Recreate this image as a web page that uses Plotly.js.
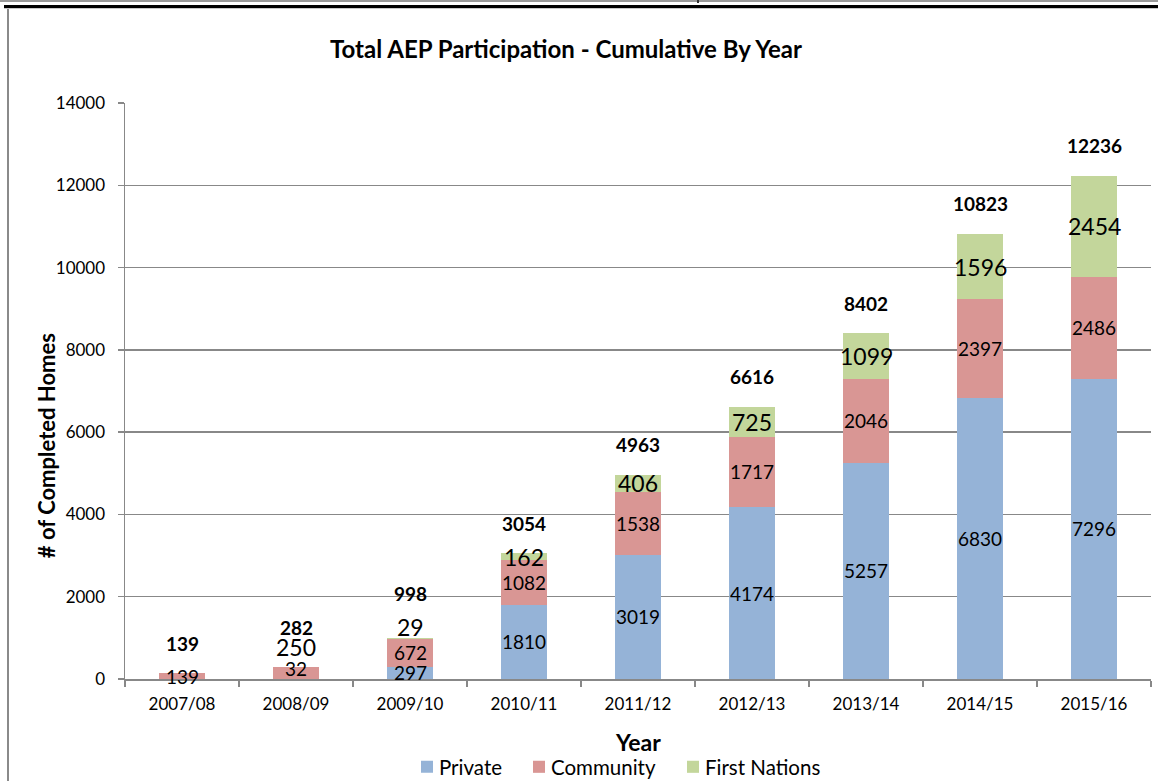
<!DOCTYPE html>
<html>
<head>
<meta charset="utf-8">
<script src="https://cdn.plot.ly/plotly-3.0.1.min.js"></script>
<style>
  html, body { margin: 0; padding: 0; background: #fff; }
  #wrap { position: relative; width: 1158px; height: 781px; overflow: hidden; }
  #chart { position: absolute; left: 0; top: 0; width: 1158px; height: 781px; }
  .deco { position: absolute; pointer-events: none; z-index: 10; }
</style>
</head>
<body>
<div id="wrap">
  <div id="chart"></div>
  <div class="deco" style="left:0;top:0;width:1158px;height:2px;background:#9a9a9a;"></div>
  <div class="deco" style="left:4px;top:5px;width:1154px;height:3px;background:#000;"></div>
  <div class="deco" style="left:4px;top:8px;width:1154px;height:1px;background:#c8c8c8;"></div>
  <div class="deco" style="left:7px;top:9px;width:2px;height:772px;background:#8a8a8a;"></div>
  <div class="deco" style="left:697px;top:0;width:2px;height:3px;background:#333;"></div>
</div>
<script>
// ---- data ----
const categories = ['2007/08','2008/09','2009/10','2010/11','2011/12','2012/13','2013/14','2014/15','2015/16'];
const privateHomes = [0, 0, 297, 1810, 3019, 4174, 5257, 6830, 7296];
const communityHomes = [139, 32, 672, 1082, 1538, 1717, 2046, 2397, 2486];
const firstNationsHomes = [0, 250, 29, 162, 406, 725, 1099, 1596, 2454];
const totalHomes = [139, 282, 998, 3054, 4963, 6616, 8402, 10823, 12236];
const seriesNames = ['Private', 'Community', 'First Nations'];

// ---- style ----
const FONT = 'Lato, "Open Sans", sans-serif';
const C_PRIVATE = '#95B3D7';
const C_COMMUNITY = '#D99694';
const C_FN = '#C3D69B';
const GRID = '#888888';

// the 2008/09 First Nations segment is drawn in the community colour in the source chart
const fnColors = firstNationsHomes.map((v, i) => categories[i] === '2008/09' ? C_COMMUNITY : C_FN);

const traces = [
  { type: 'bar', name: seriesNames[0], x: categories, y: privateHomes, marker: { color: C_PRIVATE }, hoverinfo: 'skip' },
  { type: 'bar', name: seriesNames[1], x: categories, y: communityHomes, marker: { color: C_COMMUNITY }, hoverinfo: 'skip' },
  { type: 'bar', name: seriesNames[2], x: categories, y: firstNationsHomes, marker: { color: fnColors }, hoverinfo: 'skip' }
];

const annotations = [];
const labelSizes = [19, 19, 23];
const series = [privateHomes, communityHomes, firstNationsHomes];
// pixel nudges reproducing the source chart's hand-placed labels
const segNudge = { '1|2008/09': 10 };
const aboveTop = { '2|2008/09': 20, '2|2009/10': 11 };
const totalNudge = { '2008/09': 40, '2009/10': 44 };

categories.forEach((cat, i) => {
  let base = 0;
  series.forEach((arr, s) => {
    const v = arr[i];
    if (v > 0) {
      const key = s + '|' + cat;
      let y = base + v / 2, ys = 0;
      if (aboveTop[key] !== undefined) { y = totalHomes[i]; ys = aboveTop[key]; }
      if (segNudge[key] !== undefined) ys = segNudge[key];
      annotations.push({
        x: cat, y: y, xref: 'x', yref: 'y', text: String(v), showarrow: false,
        yshift: ys, xanchor: 'center', yanchor: 'middle',
        font: { family: FONT, size: labelSizes[s], color: '#000' }
      });
    }
    base += v;
  });
  annotations.push({
    x: cat, y: totalHomes[i], xref: 'x', yref: 'y', text: '<b>' + totalHomes[i] + '</b>',
    showarrow: false, yshift: totalNudge[cat] !== undefined ? totalNudge[cat] : 30,
    xanchor: 'center', yanchor: 'middle',
    font: { family: FONT, size: 19, color: '#000' }
  });
});

// axis titles (placed as in the source chart)
annotations.push({
  xref: 'paper', yref: 'paper', x: -0.077, y: 0.406, text: '<b># of Completed Homes</b>',
  textangle: -90, showarrow: false, xanchor: 'center', yanchor: 'middle',
  font: { family: FONT, size: 22, color: '#000' }
});
annotations.push({
  xref: 'paper', yref: 'paper', x: 0.5, y: -0.1094, text: '<b>Year</b>',
  showarrow: false, xanchor: 'center', yanchor: 'middle',
  font: { family: FONT, size: 23, color: '#000' }
});

const layout = {
  width: 1158, height: 781,
  margin: { l: 125, r: 7, t: 103, b: 102 },
  paper_bgcolor: 'rgba(0,0,0,0)', plot_bgcolor: '#fff',
  barmode: 'stack', bargap: 0.596,
  font: { family: FONT, color: '#000' },
  title: {
    text: '<b>Total AEP Participation - Cumulative By Year</b>',
    xref: 'container', yref: 'container', x: 0.4888, y: 0.937,
    xanchor: 'center', yanchor: 'middle',
    font: { family: FONT, size: 24, color: '#000' }
  },
  xaxis: {
    type: 'category', tickson: 'boundaries', ticks: 'outside', ticklen: 6,
    tickcolor: GRID, tickwidth: 1.5, showline: true, linecolor: GRID, linewidth: 1.5,
    showgrid: false, ticklabelstandoff: 9, automargin: false,
    tickfont: { family: FONT, size: 17, color: '#000' }
  },
  yaxis: {
    range: [0, 14000], dtick: 2000, tick0: 0, tickformat: 'd', ticks: 'outside', ticklen: 6,
    tickcolor: GRID, tickwidth: 1.5, showline: true, linecolor: GRID, linewidth: 1.5,
    showgrid: true, gridcolor: GRID, gridwidth: 1.5, zeroline: false,
    ticklabelstandoff: 9, automargin: false,
    tickfont: { family: FONT, size: 17, color: '#000' }
  },
  legend: {
    orientation: 'h', xref: 'container', yref: 'container',
    x: 620 / 1158, y: 1 - 767 / 781, xanchor: 'center', yanchor: 'middle',
    font: { family: FONT, size: 20.5, color: '#000' }, traceorder: 'normal',
    itemwidth: 30, bgcolor: 'rgba(0,0,0,0)'
  },
  showlegend: true,
  annotations: annotations
};

// desired left edges of the legend texts in the source chart, and swatch-to-text gap
const LEGEND_TEXT_LEFT = [439, 551, 705];
const SWATCH_GAP = 6;

Plotly.newPlot('chart', traces, layout, { staticPlot: true, displayModeBar: false }).then(() => {
  const items = document.querySelectorAll('.legend .traces');
  items.forEach((item, i) => {
    const pts = item.querySelector('.legendpoints');
    const sq = item.querySelector('.legendpoints path');
    const tx = item.querySelector('text.legendtext');
    if (!pts || !sq || !tx) return;
    if (i === 2) sq.style.fill = C_FN;
    const rS = sq.getBoundingClientRect();
    const rT = tx.getBoundingClientRect();
    const symShift = (rT.left - SWATCH_GAP) - rS.right;
    pts.setAttribute('transform', 'translate(' + symShift + ',0)');
    const tr = item.getAttribute('transform') || '';
    const m = tr.match(/translate\(\s*([-\d.]+)[ ,]+([-\d.]+)\s*\)/);
    const x0 = m ? parseFloat(m[1]) : 0, y0 = m ? parseFloat(m[2]) : 0;
    const dx = LEGEND_TEXT_LEFT[i] - rT.left;
    item.setAttribute('transform', 'translate(' + (x0 + dx) + ',' + y0 + ')');
  });
});
</script>
</body>
</html>
